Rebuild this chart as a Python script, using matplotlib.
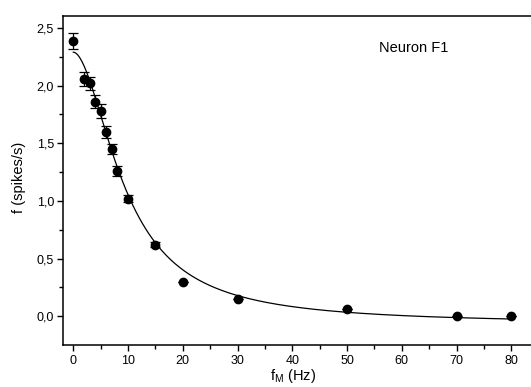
import matplotlib
matplotlib.use("Agg")
import matplotlib.pyplot as plt
import numpy as np

plt.rcParams['font.family'] = ['Liberation Sans', 'DejaVu Sans']

# mean firing rate vs modulation frequency
fm = [0, 2, 3, 4, 5, 6, 7, 8, 10, 15, 20, 30, 50, 70, 80]
rate = [2.39, 2.06, 2.02, 1.86, 1.78, 1.60, 1.45, 1.26, 1.02, 0.62, 0.30, 0.15, 0.06, 0.0, 0.0]
rate_err = [0.07, 0.06, 0.058, 0.055, 0.058, 0.05, 0.043, 0.043, 0.03, 0.02, 0.0, 0.0, 0.0, 0.0, 0.0]

# logistic (dose-response) fit parameters
A1, A2, X0, P = 2.29, -0.067, 9.49, 1.865

xticks = [0, 10, 20, 30, 40, 50, 60, 70, 80]
yticks = [0.0, 0.5, 1.0, 1.5, 2.0, 2.5]

W, H = 531, 387
fig = plt.figure(figsize=(W / 100, H / 100), dpi=100)
ax = fig.add_axes([63 / W, 42 / H, (W - 63) / W, 329 / H])

xf = np.linspace(0, 80, 400)
yf = A2 + (A1 - A2) / (1 + (xf / X0) ** P)
ax.plot(xf, yf, color='black', lw=0.9)

ax.errorbar(fm, rate, yerr=rate_err, fmt='o', color='black', ms=6,
            capsize=3.4, elinewidth=0.9, capthick=0.9)

ax.set_xlim(-1.88, 83.6)
ax.set_ylim(-0.249, 2.604)
ax.set_xticks(xticks)
ax.set_xticks([5, 15, 25, 35, 45, 55, 65, 75], minor=True)
ax.set_yticks(yticks)
ax.set_yticks([0.25, 0.75, 1.25, 1.75, 2.25], minor=True)
ax.set_yticklabels([("%.1f" % v).replace('.', ',') for v in yticks])

ax.spines['right'].set_visible(False)
for s in ['left', 'bottom', 'top']:
    ax.spines[s].set_linewidth(1.1)
ax.tick_params(which='major', direction='out', length=4.5, width=1.0, labelsize=9, pad=2)
ax.tick_params(axis='x', which='major', pad=3)
ax.tick_params(which='minor', direction='out', length=3, width=1.0)
ax.tick_params(top=False, right=False)

fig.text(19 / W, 1 - 177 / H, 'f (spikes/s)', rotation=90, ha='center', va='center', fontsize=10.5)
fig.text(293 / W, 1 - 380 / H, r'f$_{\mathregular{M}}$ (Hz)', ha='center', va='baseline', fontsize=10.5)
fig.text(379 / W, 1 - 48 / H, 'Neuron F1', ha='left', va='center', fontsize=10.5)

fig.savefig('out.png', dpi=100)
